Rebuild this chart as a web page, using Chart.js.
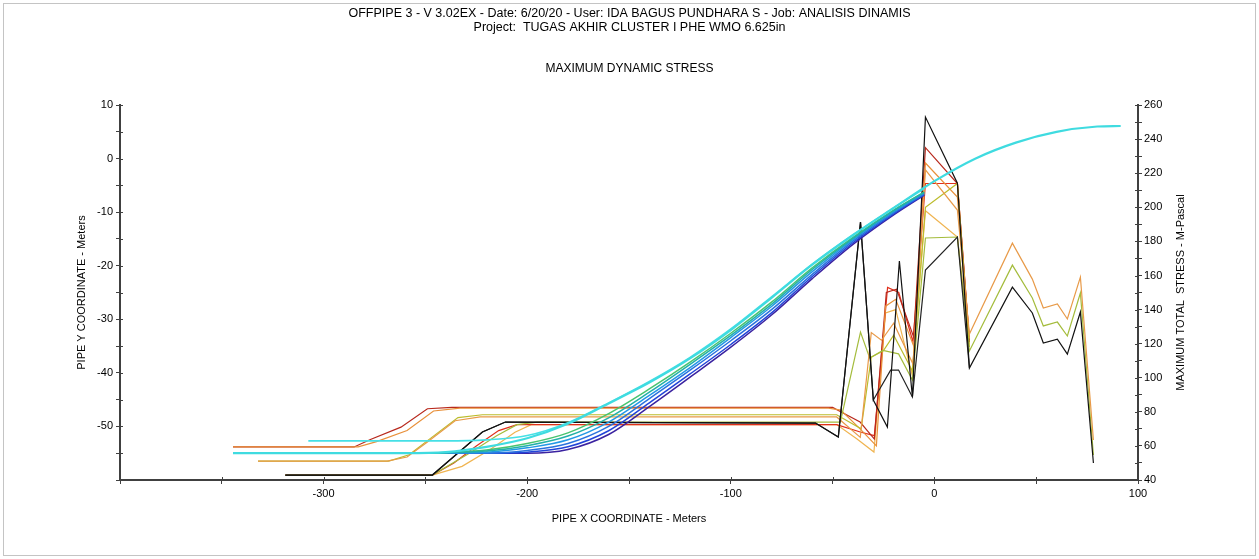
<!DOCTYPE html>
<html>
<head>
<meta charset="utf-8">
<script src="https://cdn.jsdelivr.net/npm/chart.js@4.4.1/dist/chart.umd.min.js"></script>
<style>
  html, body { margin: 0; padding: 0; background: #fff; }
  canvas { display: block; }
</style>
</head>
<body>
<canvas id="myChart" width="1259" height="559"></canvas>
<script>
// tick labels
const xTickLabels = [-300, -200, -100, 0, 100];
const yTickLabels = [-50, -40, -30, -20, -10, 0, 10];
const stressTickLabels = [40, 60, 80, 100, 120, 140, 160, 180, 200, 220, 240, 260];

const headerLines = [
    'OFFPIPE 3 - V 3.02EX - Date: 6/20/20 - User: IDA BAGUS PUNDHARA S - Job: ANALISIS DINAMIS',
    'Project:  TUGAS AKHIR CLUSTER I PHE WMO 6.625in'
];
const chartTitle = 'MAXIMUM DYNAMIC STRESS';
const stressAxisTitle = 'MAXIMUM TOTAL  STRESS - M-Pascal';

// pipe profiles (left axis, meters)
const cyanLongX = [-344.5, -300, -260, -240, -220, -200, -180, -160, -140, -120, -100, -80, -60, -40, -20, 0, 20, 40, 60, 80, 91.5];
const cyanLongY = [-55, -55, -55, -54.8, -53.8, -52.2, -49.5, -45.7, -41.8, -37.3, -32, -26, -19.8, -14.3, -9.2, -4.2, 0, 3.0, 5.0, 6.0, 6.1];
const cyanShortX = [-307.5, -240, -220, -200, -180, -160, -140, -120, -100, -80, -60, -40, -20, -5];
const cyanShortY = [-52.7, -52.7, -52.5, -51.7, -49.3, -45.6, -41.6, -37.1, -31.8, -25.8, -19.7, -14.2, -9.2, -5.6];

const profileX = [-250, -220, -200, -180, -160, -140, -120, -100, -80, -60, -40, -20, -5];
const indigoY = [-55, -55, -55, -54.3, -51.5, -46.3, -40.8, -35.2, -29.2, -22.4, -16, -10.5, -6.8];
const blueY = [-55, -55, -54.8, -53.8, -50.8, -45.6, -40.2, -34.7, -28.8, -22.0, -15.7, -10.3, -6.7];
const midBlueY = [-55, -55, -54.5, -53.2, -50, -44.8, -39.5, -34.0, -28.2, -21.6, -15.4, -10.1, -6.6];
const skyBlueY = [-55, -54.8, -54.0, -52.5, -49.2, -44.2, -39.0, -33.4, -27.6, -21.1, -15.1, -9.9, -6.4];
const tealY = [-55, -54.6, -53.6, -51.8, -48.4, -43.6, -38.4, -33.0, -27.2, -20.7, -14.9, -9.7, -6.3];
const greenY = [-55, -54.4, -53.2, -51.2, -47.6, -43.0, -38.0, -32.6, -26.8, -20.4, -14.7, -9.6, -6.2];

// max total stress (right axis, MPa) as [x, stress]
const blackStress = [[-318.8,42.9],[-246.6,42.9],[-222,68.2],[-210.7,74],[-58.4,73.4],[-47.2,65.2],[-36.3,191.4],[-30,86.9],[-23.1,71.1],[-17.2,168.5],[-10.8,88.7],[-4.4,253],[11.3,214.2],[17.2,105.7],[38.3,153.2],[48.1,138],[53.5,120.4],[60.4,122.7],[65.3,113.9],[71.7,138.6],[78.1,50]];
const blackStress2 = [[-318.8,42.9],[-246.6,42.9],[-222,68.2],[-210.7,74],[-58.4,73.4],[-47.2,65.2],[-36.3,191.4],[-30,86.9],[-21.5,104.5],[-17.6,104.5],[-10.8,88.7],[-4.4,163.2],[11.3,182.6],[17.2,105.7]];
const darkRedStress = [[-344.5,59.4],[-285,59.4],[-277,63.8],[-262,71],[-249,81.8],[-237,82.6],[-50,82.6],[-46,80],[-36.5,74],[-29.5,64],[-23.6,150],[-18.6,152],[-10.2,124],[-4.4,235],[11.3,214],[17.2,121]];
const orangeRedStress = [[-344.5,59.4],[-283,59.4],[-274,62.5],[-259,69],[-246,80.5],[-233,82.2],[-52,82.2],[-46,81],[-36.5,70],[-28.5,60],[-24,142],[-19,146],[-10,118],[-4.4,226],[11.3,206],[17.2,123]];
const redStress = [[-318.8,42.9],[-246.6,42.9],[-236,50],[-225,60],[-214,69],[-205,72.5],[-48,72.5],[-36,68],[-29.5,66],[-23,153],[-17.5,150],[-10.5,121],[-4.4,214],[11.3,214],[17.2,122]];
const orangeStress = [[-332.2,51.1],[-268.8,51.1],[-259,53.5],[-249,62.3],[-235.4,74.8],[-223.1,77.0],[-48,77.0],[-36.4,65],[-31,126.5],[-26,122],[-20,132],[-10.5,108],[-4.4,222],[11.3,198.4],[17.2,125.7],[38.3,179],[48.1,157.9],[53.5,140.9],[60.4,143.3],[65.3,134.5],[71.7,159.1],[78.1,63.5]];
const lightOrangeStress = [[-318.8,42.9],[-246.6,42.9],[-232,48],[-218,58],[-206,68],[-198,72.5],[-48,72.5],[-38,64],[-29.7,56.4],[-24,138],[-19,140],[-11,102],[-4.4,198],[11.3,182.6],[17.2,120]];
const oliveStress = [[-332.2,51.1],[-268,51.1],[-258,54.8],[-248,64],[-234,76.6],[-222,78.3],[-48,78.3],[-36,70],[-31,112],[-25,116],[-20,125],[-10.8,104],[-4.4,200],[11.3,214],[17.2,118]];
const yellowGreenStress = [[-318.8,42.9],[-246.6,42.9],[-228,56],[-215,66],[-205,72.5],[-195,74],[-46.2,74],[-36.3,126.8],[-31.8,111.6],[-25.3,116],[-17.6,114],[-10.8,98.7],[-4.4,182],[11.3,182.6],[17.2,115.7],[38.3,166.1],[48.1,146.8],[53.5,130.4],[60.4,132.7],[65.3,124.5],[71.7,149.7],[78.1,54.7]];

const FONT = '"Liberation Sans", Arial, sans-serif';

function profileSet(label, xs, ys, color, width) {
    return {
        label: label,
        data: xs.map((x, i) => ({ x: x, y: ys[i] })),
        yAxisID: 'y',
        borderColor: color,
        borderWidth: width,
        pointRadius: 0,
        cubicInterpolationMode: 'monotone',
        fill: false
    };
}

function stressSet(label, pts, color) {
    return {
        label: label,
        data: pts.map(p => ({ x: p[0], y: p[1] })),
        yAxisID: 'y2',
        borderColor: color,
        borderWidth: 1.2,
        pointRadius: 0,
        tension: 0,
        fill: false
    };
}

// first dataset is drawn on top
const datasets = [
    profileSet('cyan', cyanLongX, cyanLongY, '#3fdbe0', 2.2),
    profileSet('cyan 2', cyanShortX, cyanShortY, '#45e0e6', 1.6),
    profileSet('teal', profileX, tealY, '#22b0a8', 1.5),
    profileSet('green', profileX, greenY, '#48c470', 1.5),
    profileSet('sky', profileX, skyBlueY, '#2298e6', 1.5),
    profileSet('mid blue', profileX, midBlueY, '#2a72de', 1.5),
    profileSet('blue', profileX, blueY, '#2244d8', 1.5),
    profileSet('indigo', profileX, indigoY, '#3a22a0', 1.5),
    stressSet('black', blackStress, '#111111'),
    stressSet('black 2', blackStress2, '#222222'),
    stressSet('orange', orangeStress, '#e89a48'),
    stressSet('yellow green', yellowGreenStress, '#a4bc3c'),
    stressSet('olive', oliveStress, '#bcbc2c'),
    stressSet('orange red', orangeRedStress, '#e8903a'),
    stressSet('dark red', darkRedStress, '#b8281c'),
    stressSet('red', redStress, '#e0301c'),
    stressSet('light orange', lightOrangeStress, '#f0b450')
];

const frameAndTitle = {
    id: 'frameAndTitle',
    beforeDraw(chart) {
        const ctx = chart.ctx;
        ctx.save();
        ctx.fillStyle = '#fff';
        ctx.fillRect(0, 0, chart.width, chart.height);
        ctx.strokeStyle = '#c4c4c4';
        ctx.lineWidth = 1;
        ctx.strokeRect(3.5, 3.5, chart.width - 7, chart.height - 7);
        ctx.restore();
    },
    afterDraw(chart) {
        const ctx = chart.ctx;
        const area = chart.chartArea;
        ctx.save();
        // inner halves of the tick marks
        ctx.strokeStyle = '#404040';
        ctx.lineWidth = 1;
        ['x', 'y', 'y2'].forEach(id => {
            const s = chart.scales[id];
            s.ticks.forEach(t => {
                const p = Math.round(s.getPixelForValue(t.value)) + 0.5;
                ctx.beginPath();
                if (id === 'x') { ctx.moveTo(p, area.bottom); ctx.lineTo(p, area.bottom - 3); }
                else if (id === 'y') { ctx.moveTo(area.left, p); ctx.lineTo(area.left + 3, p); }
                else { ctx.moveTo(area.right, p); ctx.lineTo(area.right - 3, p); }
                ctx.stroke();
            });
        });
        // right axis title reads bottom to top
        ctx.translate(1181, (area.top + area.bottom) / 2);
        ctx.rotate(-Math.PI / 2);
        ctx.font = '11px ' + FONT;
        ctx.fillStyle = '#000';
        ctx.textAlign = 'center';
        ctx.textBaseline = 'middle';
        ctx.fillText(stressAxisTitle, 0, 0);
        ctx.restore();
    }
};

const tickFont = { family: FONT, size: 11 };
const axisGrid = { drawOnChartArea: false, drawTicks: true, tickLength: 4, color: '#404040', lineWidth: 1 };
const axisBorder = { color: '#404040', width: 2 };

const ctx = document.getElementById('myChart').getContext('2d');
const myChart = new Chart(ctx, {
    type: 'line',
    data: { datasets: datasets },
    options: {
        responsive: false,
        animation: false,
        devicePixelRatio: 1,
        layout: { padding: 0 },
        plugins: {
            legend: { display: false },
            tooltip: { enabled: false },
            title: {
                display: true,
                text: headerLines,
                color: '#000',
                font: { family: FONT, size: 12.5, weight: 'normal', lineHeight: 1.06 },
                padding: { top: 7.4, bottom: 0 }
            },
            subtitle: {
                display: true,
                text: chartTitle,
                color: '#000',
                font: { family: FONT, size: 12, weight: 'normal', lineHeight: 1.1 },
                padding: { top: 28.6, bottom: 29.4 }
            }
        },
        scales: {
            x: {
                type: 'linear',
                position: 'bottom',
                min: -400,
                max: 100,
                ticks: {
                    stepSize: 50,
                    autoSkip: false,
                    maxRotation: 0,
                    color: '#000',
                    font: tickFont,
                    padding: 3,
                    callback: v => xTickLabels.includes(v) ? String(v) : ''
                },
                grid: axisGrid,
                border: axisBorder,
                title: {
                    display: true,
                    text: 'PIPE X COORDINATE - Meters',
                    color: '#000',
                    font: tickFont,
                    padding: { top: 0, bottom: 33.4 }
                },
                afterFit: s => { s.height = 79; }
            },
            y: {
                type: 'linear',
                position: 'left',
                min: -60,
                max: 10,
                ticks: {
                    stepSize: 5,
                    autoSkip: false,
                    color: '#000',
                    font: tickFont,
                    padding: 3,
                    callback: v => yTickLabels.includes(v) ? String(v) : ''
                },
                grid: axisGrid,
                border: axisBorder,
                title: {
                    display: true,
                    text: 'PIPE Y COORDINATE - Meters',
                    color: '#000',
                    font: tickFont,
                    padding: { top: 75.4, bottom: 0 }
                },
                afterFit: s => { s.width = 120; }
            },
            y2: {
                type: 'linear',
                position: 'right',
                min: 40,
                max: 260,
                ticks: {
                    stepSize: 10,
                    autoSkip: false,
                    color: '#000',
                    font: tickFont,
                    padding: 2,
                    callback: v => stressTickLabels.includes(v) ? String(v) : ''
                },
                grid: axisGrid,
                border: axisBorder,
                afterFit: s => { s.width = 121; }
            }
        }
    },
    plugins: [frameAndTitle]
});
</script>
</body>
</html>
